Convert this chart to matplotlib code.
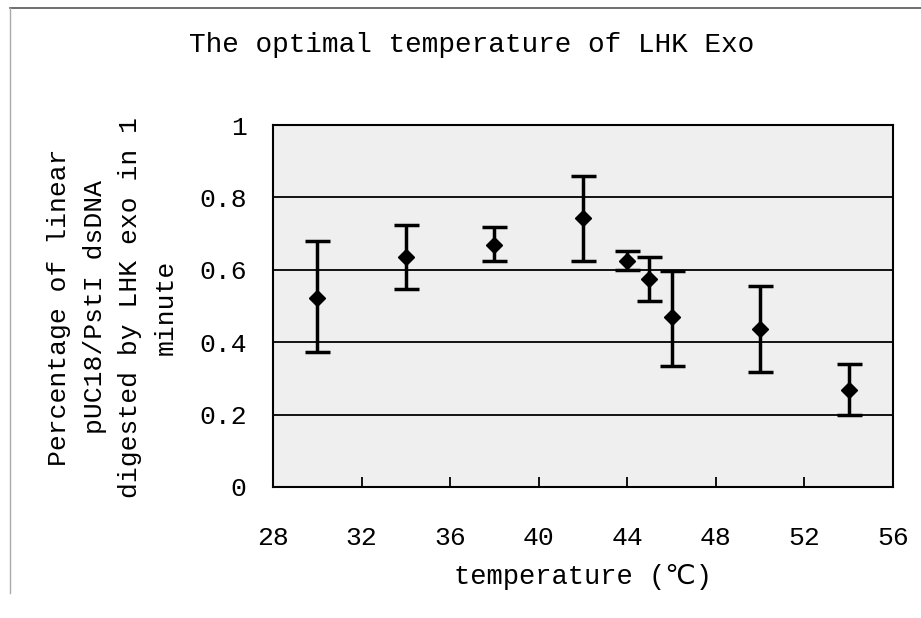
import matplotlib.pyplot as plt
from matplotlib.lines import Line2D

temps = [30, 34, 38, 42, 44, 45, 46, 50, 54]
pct = [0.523, 0.636, 0.668, 0.742, 0.625, 0.574, 0.469, 0.436, 0.268]
err_hi = [0.680, 0.724, 0.717, 0.860, 0.653, 0.634, 0.598, 0.556, 0.340]
err_lo = [0.374, 0.546, 0.624, 0.625, 0.599, 0.514, 0.334, 0.319, 0.199]

x_ticks = [28, 32, 36, 40, 44, 48, 52, 56]
y_ticks = [0, 0.2, 0.4, 0.6, 0.8, 1]
y_tick_labels = ["0", "0.2", "0.4", "0.6", "0.8", "1"]

plt.rcParams['font.family'] = ['Liberation Mono', 'DejaVu Sans Mono', 'DejaVu Sans']

fig = plt.figure(figsize=(9.21, 6.18), dpi=100)
ax = fig.add_axes([0.2964, 0.2120, 0.6732, 0.5857])
ax.set_facecolor('#efefef')

lower = [p - lo for p, lo in zip(pct, err_lo)]
upper = [hi - p for p, hi in zip(pct, err_hi)]
ax.errorbar(temps, pct, yerr=[lower, upper], fmt='D', color='black',
            markersize=8.5, elinewidth=2.5, capsize=9, capthick=2.5, zorder=3)

for y in y_ticks[1:-1]:
    ax.axhline(y, color='black', lw=1.3, zorder=1)

ax.set_xlim(28, 56)
ax.set_ylim(0, 1)
ax.set_xticks(x_ticks)
ax.set_yticks(y_ticks)
ax.set_yticklabels(y_tick_labels)
ax.tick_params(axis='x', direction='in', length=7, width=1.3, pad=28, labelsize=19)
ax.tick_params(axis='y', length=0, pad=19, labelsize=19)
for s in ax.spines.values():
    s.set_linewidth(1.5)

fig.text(0.512, 0.927, "The optimal temperature of LHK Exo", ha='center', va='center',
         fontsize=20)
fig.text(0.633, 1 - 577 / 618, "temperature (℃)", ha='center', va='center', fontsize=19.5)
fig.text(0.122, 0.503,
         "Percentage of linear\npUC18/PstI dsDNA\ndigested by LHK exo in 1\nminute",
         rotation=90, ha='center', va='center', multialignment='center',
         fontsize=19, linespacing=1.6)

# scan frame lines
fig.add_artist(Line2D([0.011, 1.0], [0.987, 0.987], color='#555555', lw=1.2))
fig.add_artist(Line2D([0.011, 0.011], [0.987, 0.04], color='#aaaaaa', lw=1.0))

fig.savefig('out.png', dpi=100)
